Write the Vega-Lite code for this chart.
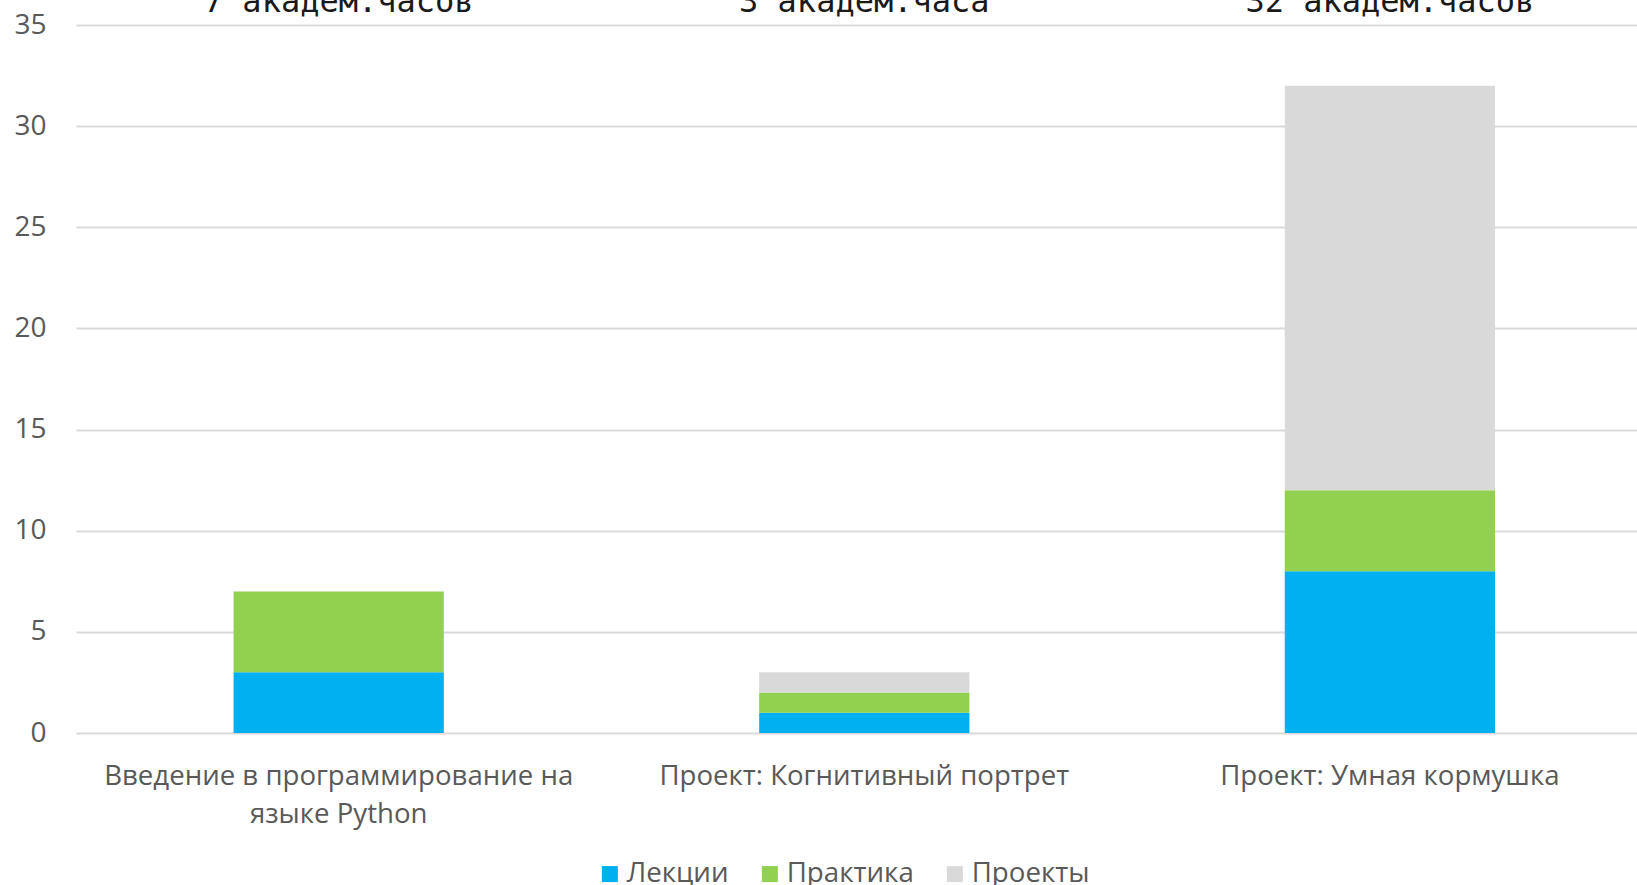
{
  "$schema": "https://vega.github.io/schema/vega-lite/v6.json",
  "width": 1561,
  "height": 708,
  "autosize": {"type": "none"},
  "padding": {"left": 76, "top": 25, "right": 0, "bottom": 152},
  "background": "white",
  "config": {"view": {"stroke": null}, "font": "Open Sans"},
  "data": {"values": [
    {"course": "Введение в программирование на языке Python", "type": "Лекции", "hours": 3, "ord": 1},
    {"course": "Введение в программирование на языке Python", "type": "Практика", "hours": 4, "ord": 2},
    {"course": "Введение в программирование на языке Python", "type": "Проекты", "hours": 0, "ord": 3},
    {"course": "Проект: Когнитивный портрет", "type": "Лекции", "hours": 1, "ord": 1},
    {"course": "Проект: Когнитивный портрет", "type": "Практика", "hours": 1, "ord": 2},
    {"course": "Проект: Когнитивный портрет", "type": "Проекты", "hours": 1, "ord": 3},
    {"course": "Проект: Умная кормушка", "type": "Лекции", "hours": 8, "ord": 1},
    {"course": "Проект: Умная кормушка", "type": "Практика", "hours": 4, "ord": 2},
    {"course": "Проект: Умная кормушка", "type": "Проекты", "hours": 20, "ord": 3}
  ]},
  "layer": [
    {
      "mark": {"type": "bar"},
      "encoding": {
        "x": {
          "field": "course", "type": "nominal", "sort": null,
          "scale": {"paddingInner": 0.6, "paddingOuter": 0.285, "align": 0.526},
          "axis": {
            "title": null, "domain": false, "ticks": false, "labelAngle": 0,
            "labelFontSize": 27.6, "labelColor": "#595959", "labelPadding": 29,
            "labelLimit": 0, "labelLineHeight": 38, "labelBaseline": "top",
            "labelExpr": "datum.label == 'Введение в программирование на языке Python' ? ['Введение в программирование на', 'языке Python'] : datum.label"
          }
        },
        "y": {
          "field": "hours", "type": "quantitative", "stack": "zero",
          "scale": {"domain": [0, 35], "nice": false},
          "axis": {
            "title": null, "domain": false, "ticks": false,
            "values": [0, 5, 10, 15, 20, 25, 30, 35],
            "grid": true, "gridColor": "#D9D9D9", "gridWidth": 2,
            "labelFontSize": 28, "labelColor": "#595959", "labelPadding": 30
          }
        },
        "color": {
          "field": "type", "type": "nominal",
          "scale": {"domain": ["Лекции", "Практика", "Проекты"], "range": ["#00B0F0", "#92D050", "#D9D9D9"]},
          "legend": {
            "title": null, "orient": "none", "direction": "horizontal",
            "legendX": 520, "legendY": 835,
            "symbolType": "square", "symbolSize": 256, "symbolStrokeWidth": 0,
            "labelFontSize": 27.7, "labelColor": "#595959", "labelOffset": 3,
            "columnPadding": 27
          }
        },
        "order": {"field": "ord"}
      }
    },
    {
      "data": {"values": [
        {"course": "Введение в программирование на языке Python", "label": "7 академ.часов"},
        {"course": "Проект: Когнитивный портрет", "label": "3 академ.часа"},
        {"course": "Проект: Умная кормушка", "label": "32 академ.часов"}
      ]},
      "mark": {"type": "text", "font": "DejaVu Sans Mono", "fontSize": 32, "color": "#1a1a1a", "baseline": "alphabetic", "dy": -13},
      "encoding": {
        "x": {"field": "course", "type": "nominal", "sort": null},
        "y": {"datum": 35},
        "text": {"field": "label"}
      }
    }
  ]
}
